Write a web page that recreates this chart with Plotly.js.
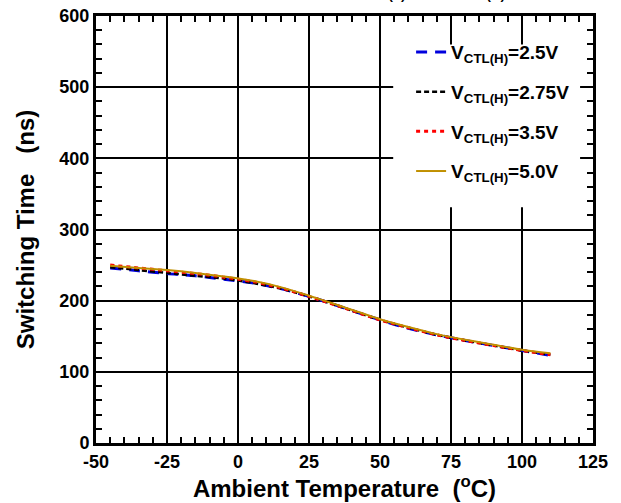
<!DOCTYPE html>
<html><head><meta charset="utf-8">
<script src="https://cdn.plot.ly/plotly-3.0.1.min.js"></script>
<style>html,body{margin:0;padding:0;background:#fff;}#chart{width:621px;height:503px;}</style>
</head><body><div id="chart"></div>
<script>
const temps = [-45,-35,-25,-15,-5,5,15,25,35,50,60,70,80,90,100,110];
const t_25V  = [246,242,238,235,230,225,217,206,193,173,161,152,144,137,130,123];
const t_275V = [247,243,239,235,231,225,217,206,193,173,162,152,144,137,130,124];
const t_35V  = [250,246,242,238,233,227,218,206,193,173,162,152,144,137,130,124];
const t_50V  = [249,246,243,239,234,228,219,207,194,174,163,153,145,138,131,126];
const seriesNames = ['V<sub>CTL(H)</sub>=2.5V','V<sub>CTL(H)</sub>=2.75V','V<sub>CTL(H)</sub>=3.5V','V<sub>CTL(H)</sub>=5.0V'];
const xTicks = [-50,-25,0,25,50,75,100,125];
const yTicks = [0,100,200,300,400,500,600];

const styles = [
  {color:'#0000dd', width:3, dash:'11px,8px'},
  {color:'#000000', width:2.5, dash:'5px,3px'},
  {color:'#ff0000', width:3, dash:'4px,4px'},
  {color:'#c09000', width:2, dash:'solid'}
];
const ys = [t_25V, t_275V, t_35V, t_50V];
const data = ys.map((y,i)=>({
  x: temps, y: y, type:'scatter', mode:'lines', name: seriesNames[i],
  legendgroup:'g'+i,
  line: Object.assign({shape:'spline', smoothing:0.8}, styles[i])
}));

const font = {family:'"Liberation Sans", Arial, sans-serif', color:'#000'};
const axisCommon = {
  showline:true, linewidth:3, linecolor:'#000', mirror:'ticks',
  showgrid:true, gridcolor:'#000', gridwidth:2, zeroline:false,
  ticks:'inside', ticklen:8, tickwidth:2, tickcolor:'#000',
  tickfont: Object.assign({size:18, weight:'bold'}, font)
};
const layout = {
  width:621, height:503,
  margin:{l:96, r:28, t:16, b:60},
  paper_bgcolor:'#fff', plot_bgcolor:'#fff',
  font: font,
  showlegend:true,
  legend:{x:0.634, y:0.96, xanchor:'left', yanchor:'top', bgcolor:'rgba(0,0,0,0)', borderwidth:0,
    tracegroupgap:12, font:Object.assign({size:19, weight:'bold'}, font)},
  xaxis: Object.assign({}, axisCommon, {
    range:[-50,125], tickvals:xTicks, ticktext:xTicks.map(String),
    minor:{dtick:5, ticks:'inside', ticklen:6, tickwidth:2, tickcolor:'#000', showgrid:false},
    title:{text:'Ambient Temperature\u00a0 (<sup>o</sup>C)', font:Object.assign({size:24, weight:'bold'}, font), standoff:7}
  }),
  yaxis: Object.assign({}, axisCommon, {
    range:[0,600], tickvals:yTicks, ticktext:yTicks.map(String),
    minor:{dtick:20, ticks:'inside', ticklen:6, tickwidth:2, tickcolor:'#000', showgrid:false},
    title:{text:'Switching Time\u00a0\u00a0 (ns)', font:Object.assign({size:24, weight:'bold'}, font), standoff:18}
  }),
  shapes:[{
    type:'rect', xref:'paper', yref:'paper', layer:'above',
    x0:0.598, x1:0.974, y0:0.552, y1:0.933,
    fillcolor:'#fff', line:{width:0}
  }],
  annotations:[{
    xref:'paper', yref:'paper', x:0.507, y:1, xanchor:'left', yanchor:'bottom', yshift:12,
    showarrow:false, text:'V<sub>CTL(L)</sub>',
    font:Object.assign({size:19, weight:'bold'}, font)
  },{
    xref:'paper', yref:'paper', x:0.704, y:1, xanchor:'left', yanchor:'bottom', yshift:12,
    showarrow:false, text:'V<sub>CTL(H)</sub>',
    font:Object.assign({size:19, weight:'bold'}, font)
  }]
};
Plotly.newPlot('chart', data, layout, {displayModeBar:false, staticPlot:true});
</script></body></html>
